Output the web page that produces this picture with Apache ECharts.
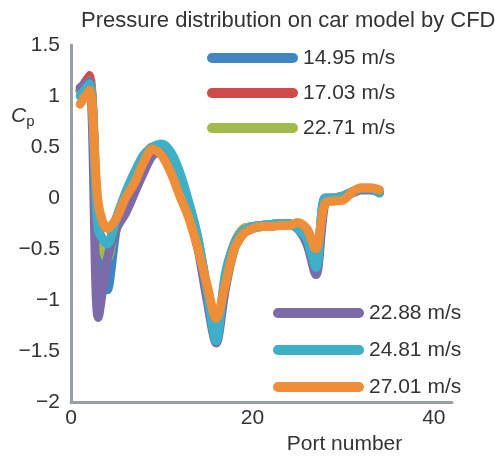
<!DOCTYPE html>
<html>
<head>
<meta charset="utf-8">
<script src="https://cdn.jsdelivr.net/npm/echarts/dist/echarts.min.js"></script>
<style>
  html, body { margin: 0; padding: 0; background: #fff; }
  #chart { width: 495px; height: 460px; }
</style>
</head>
<body>
<div id="chart"></div>
<script>
// port numbers 1..34
const ports = [1, 2, 3, 4, 5, 6, 7, 8, 9, 10, 11, 12, 13, 14, 15, 16, 17,
  18, 19, 20, 21, 22, 23, 24, 25, 26, 27, 28, 29, 30, 31, 32, 33, 34]

// Cp per port, one array per wind speed
const cp1495 = [1.05, 1.15, -0.3, -0.9, -0.3, 0.02, 0.2, 0.38, 0.48, 0.5, 0.42, 0.22, -0.05, -0.4, -0.9, -1.38,
  -0.78, -0.45, -0.31, -0.28, -0.27, -0.26, -0.25, -0.25, -0.3, -0.4, -0.66, 0.0, 0.0, 0.02, 0.06, 0.09, 0.09, 0.05]
const cp1703 = [1.05, 1.2, -0.3, -0.45, -0.2, 0.02, 0.2, 0.38, 0.5, 0.48, 0.35, 0.15, -0.1, -0.45, -0.95, -1.38,
  -0.8, -0.45, -0.3, -0.28, -0.27, -0.26, -0.25, -0.25, -0.3, -0.42, -0.68, -0.02, 0.0, 0.02, 0.06, 0.09, 0.09, 0.06]
const cp2271 = [1.05, 1.15, -0.3, -0.6, -0.2, 0.02, 0.2, 0.38, 0.48, 0.48, 0.36, 0.15, -0.1, -0.45, -0.95, -1.38,
  -0.8, -0.45, -0.3, -0.28, -0.27, -0.26, -0.25, -0.25, -0.3, -0.42, -0.68, -0.02, 0.0, 0.02, 0.06, 0.09, 0.09, 0.06]
const cp2288 = [1.08, 1.15, -1.17, -0.6, -0.3, -0.15, 0.05, 0.25, 0.42, 0.45, 0.3, 0.1, -0.15, -0.5, -1.0, -1.42,
  -0.9, -0.5, -0.35, -0.3, -0.28, -0.27, -0.26, -0.26, -0.3, -0.45, -0.75, -0.05, -0.02, 0.0, 0.05, 0.08, 0.08, 0.06]
const cp2481 = [1.0, 1.12, -0.3, -0.45, -0.2, 0.05, 0.25, 0.42, 0.5, 0.53, 0.45, 0.25, -0.05, -0.4, -0.9, -1.4,
  -0.75, -0.45, -0.32, -0.28, -0.27, -0.26, -0.25, -0.25, -0.3, -0.4, -0.68, 0.0, 0.0, 0.02, 0.06, 0.09, 0.09, 0.05]
const cp2701 = [0.92, 1.06, -0.05, -0.3, -0.2, 0.0, 0.15, 0.35, 0.48, 0.42, 0.25, 0.02, -0.2, -0.5, -0.85, -1.18,
  -0.85, -0.5, -0.35, -0.3, -0.28, -0.28, -0.27, -0.27, -0.24, -0.3, -0.5, -0.05, -0.03, -0.02, 0.06, 0.1, 0.1, 0.08]

const speedsTop = ['14.95 m/s', '17.03 m/s', '22.71 m/s']
const speedsBottom = ['22.88 m/s', '24.81 m/s', '27.01 m/s']
const colors = ['#3f86c3', '#cf4a49', '#a3b94c', '#7c6aa9', '#3bb0c6', '#ee8e39']

const allSeries = [cp1495, cp1703, cp2271, cp2288, cp2481, cp2701]
const names = speedsTop.concat(speedsBottom)

const chart = echarts.init(document.getElementById('chart'))

const legendIcon = 'path://M5,0H86A5,5,0,0,1,86,10H5A5,5,0,0,1,5,0Z'
const txt = { color: '#333', fontSize: 21, fontFamily: 'Liberation Sans, Arial, sans-serif' }

chart.setOption({
  animation: false,
  color: colors,
  title: {
    text: 'Pressure distribution on car model by CFD',
    left: 76,
    top: 5,
    textStyle: Object.assign({}, txt, { fontSize: 22, fontWeight: 'normal' })
  },
  legend: [
    {
      data: speedsTop,
      orient: 'vertical',
      left: 202,
      top: 41,
      icon: legendIcon,
      itemWidth: 91,
      itemHeight: 10,
      itemGap: 11,
      textStyle: Object.assign({}, txt, { lineHeight: 24 }),
      selectedMode: false
    },
    {
      data: speedsBottom,
      orient: 'vertical',
      left: 268,
      top: 296,
      icon: legendIcon,
      itemWidth: 91,
      itemHeight: 10,
      itemGap: 13,
      textStyle: Object.assign({}, txt, { lineHeight: 24 }),
      selectedMode: false
    }
  ],
  grid: { left: 71, right: 43, top: 45, bottom: 40 },
  xAxis: {
    type: 'value',
    min: 0,
    max: 42,
    interval: 20,
    name: 'Port number',
    nameLocation: 'middle',
    nameGap: 28,
    nameTextStyle: Object.assign({}, txt, { align: 'center', padding: [0, 0, 0, 166] }),
    axisLine: { onZero: false, lineStyle: { color: '#9a9fa4', width: 3 } },
    axisTick: { show: false },
    splitLine: { show: false },
    axisLabel: Object.assign({}, txt, { margin: 6, showMaxLabel: false })
  },
  yAxis: {
    type: 'value',
    min: -2,
    max: 1.5,
    interval: 0.5,
    axisLine: { show: true, onZero: false, lineStyle: { color: '#9a9fa4', width: 3 } },
    axisTick: { show: false },
    splitLine: { show: false },
    axisLabel: Object.assign({}, txt, {
      margin: 11,
      formatter: v => (v < 0 ? '\u2212' + Math.abs(v) : String(v))
    })
  },
  graphic: [
    {
      type: 'text',
      left: 11,
      top: 106,
      style: {
        text: '{c|C}{p|p}',
        rich: {
          c: { fontSize: 21, fontStyle: 'italic', fill: '#333', fontFamily: 'Liberation Sans, Arial, sans-serif' },
          p: { fontSize: 15, fill: '#333', fontFamily: 'Liberation Sans, Arial, sans-serif', padding: [10, 0, 0, 0] }
        }
      }
    }
  ],
  series: allSeries.map((vals, i) => ({
    name: names[i],
    type: 'line',
    data: ports.map((p, j) => [p, vals[j]]),
    smooth: 0.3,
    showSymbol: false,
    lineStyle: { width: 9, color: colors[i], cap: 'round', join: 'round' },
    itemStyle: { color: colors[i] },
    z: 2 + i
  }))
})
</script>
</body>
</html>
